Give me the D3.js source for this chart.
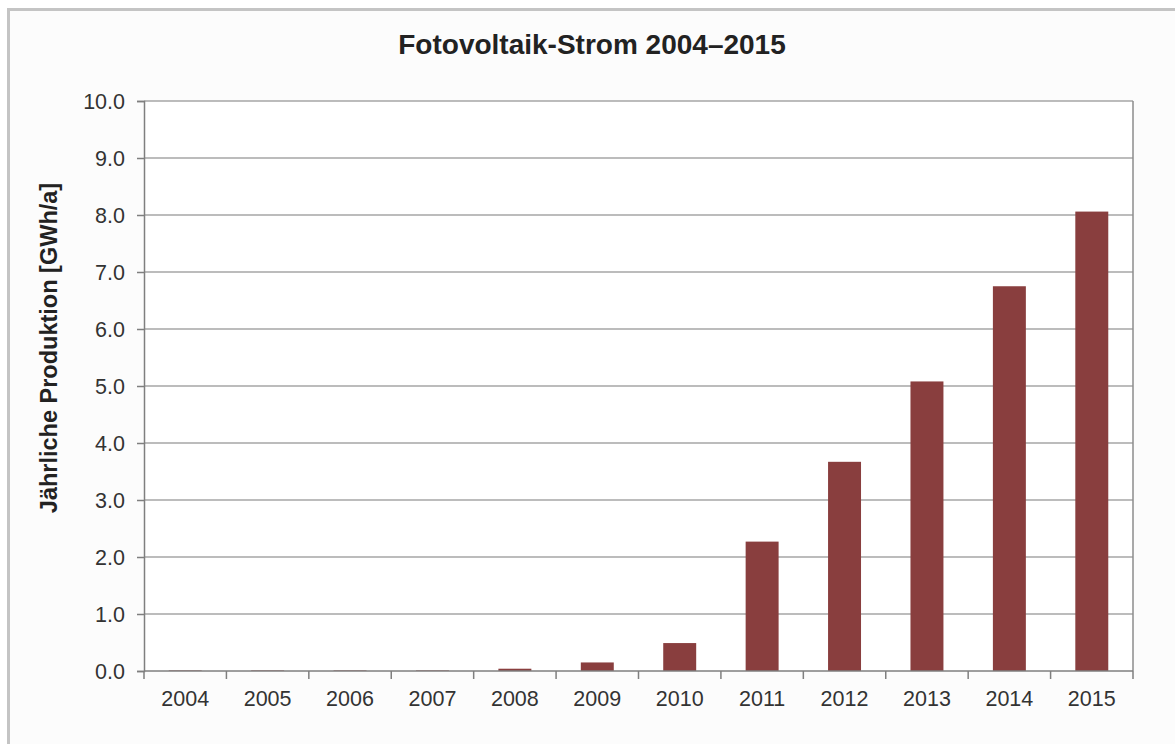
<!DOCTYPE html>
<html>
<head>
<meta charset="utf-8">
<script src="https://cdn.jsdelivr.net/npm/d3@7"></script>
<style>
  html, body { margin: 0; padding: 0; background: #ffffff; }
  svg { display: block; }
</style>
</head>
<body>
<svg id="chart" width="1175" height="744"></svg>
<script>
// Annual photovoltaic electricity production, GWh per year
const years = ["2004", "2005", "2006", "2007", "2008", "2009", "2010", "2011", "2012", "2013", "2014", "2015"];
const production = [0.01, 0.01, 0.01, 0.01, 0.04, 0.15, 0.49, 2.27, 3.67, 5.08, 6.75, 8.06];
const yTicks = [0, 1, 2, 3, 4, 5, 6, 7, 8, 9, 10];

const chartTitle = "Fotovoltaik-Strom 2004\u20132015";
const yTitle = "Jährliche Produktion [GWh/a]";

const svg = d3.select("#chart");
const W = 1175, H = 744;
const plot = { left: 144, right: 1133, top: 101, bottom: 671 };

// Outer panel with grey frame
svg.append("rect")
  .attr("x", 0).attr("y", 0).attr("width", W).attr("height", H)
  .attr("fill", "#ffffff");
svg.append("rect")
  .attr("x", 8.5).attr("y", 9.5).attr("width", W + 20).attr("height", H + 20)
  .attr("fill", "#fcfcfc")
  .attr("stroke", "#c4c4c4").attr("stroke-width", 3);

const x = d3.scaleBand()
  .domain(years)
  .range([plot.left, plot.right])
  .paddingInner(0.6)
  .paddingOuter(0.3);

const y = d3.scaleLinear()
  .domain([0, 10])
  .range([plot.bottom, plot.top]);

// Plot background
svg.append("rect")
  .attr("x", plot.left).attr("y", plot.top)
  .attr("width", plot.right - plot.left).attr("height", plot.bottom - plot.top)
  .attr("fill", "#ffffff");

// Horizontal gridlines
svg.append("g")
  .selectAll("line")
  .data(yTicks.filter(d => d > 0))
  .join("line")
  .attr("x1", plot.left).attr("x2", plot.right)
  .attr("y1", d => y(d)).attr("y2", d => y(d))
  .attr("stroke", "#a6a6a6").attr("stroke-width", 1.5);

// Right border of the plot area
svg.append("line")
  .attr("x1", plot.right).attr("x2", plot.right)
  .attr("y1", plot.top).attr("y2", plot.bottom)
  .attr("stroke", "#8c8c8c").attr("stroke-width", 1.5);

// Bars
svg.append("g")
  .selectAll("rect")
  .data(years.map((yr, i) => ({ yr, v: production[i] })))
  .join("rect")
  .attr("x", d => x(d.yr))
  .attr("width", x.bandwidth())
  .attr("y", d => y(d.v))
  .attr("height", d => y(0) - y(d.v))
  .attr("fill", "#893e3e");

// Y axis
const yAxis = d3.axisLeft(y)
  .tickValues(yTicks)
  .tickFormat(d3.format(".1f"))
  .tickSize(7)
  .tickPadding(12);
const gy = svg.append("g")
  .attr("transform", `translate(${plot.left},0)`)
  .call(yAxis);
gy.select(".domain").attr("stroke", "#7f7f7f").attr("stroke-width", 1.5);
gy.selectAll(".tick line").attr("stroke", "#7f7f7f").attr("stroke-width", 1.5);
gy.selectAll(".tick text")
  .attr("font-family", "Liberation Sans, Arial, sans-serif")
  .attr("font-size", 21.5)
  .attr("fill", "#333333")
  .attr("dy", "0.36em");

// X axis with ticks at category boundaries
const boundaries = d3.range(years.length + 1).map(i => plot.left + i * (plot.right - plot.left) / years.length);
const gx = svg.append("g");
gx.append("line")
  .attr("x1", plot.left).attr("x2", plot.right)
  .attr("y1", plot.bottom).attr("y2", plot.bottom)
  .attr("stroke", "#7f7f7f").attr("stroke-width", 1.5);
gx.selectAll("line.tk")
  .data(boundaries)
  .join("line")
  .attr("class", "tk")
  .attr("x1", d => d).attr("x2", d => d)
  .attr("y1", plot.bottom).attr("y2", plot.bottom + 8)
  .attr("stroke", "#7f7f7f").attr("stroke-width", 1.5);
gx.selectAll("text")
  .data(years)
  .join("text")
  .attr("x", d => x(d) + x.bandwidth() / 2)
  .attr("y", 706)
  .attr("text-anchor", "middle")
  .attr("font-family", "Liberation Sans, Arial, sans-serif")
  .attr("font-size", 21.5)
  .attr("fill", "#333333")
  .text(d => d);

// Title
svg.append("text")
  .attr("x", 592)
  .attr("y", 54)
  .attr("text-anchor", "middle")
  .attr("font-family", "Liberation Sans, Arial, sans-serif")
  .attr("font-weight", "bold")
  .attr("font-size", 28)
  .attr("fill", "#222222")
  .text(chartTitle);

// Y axis title
svg.append("text")
  .attr("transform", "translate(57,348) rotate(-90)")
  .attr("text-anchor", "middle")
  .attr("font-family", "Liberation Sans, Arial, sans-serif")
  .attr("font-weight", "bold")
  .attr("font-size", 23.5)
  .attr("fill", "#222222")
  .text(yTitle);
</script>
</body>
</html>
